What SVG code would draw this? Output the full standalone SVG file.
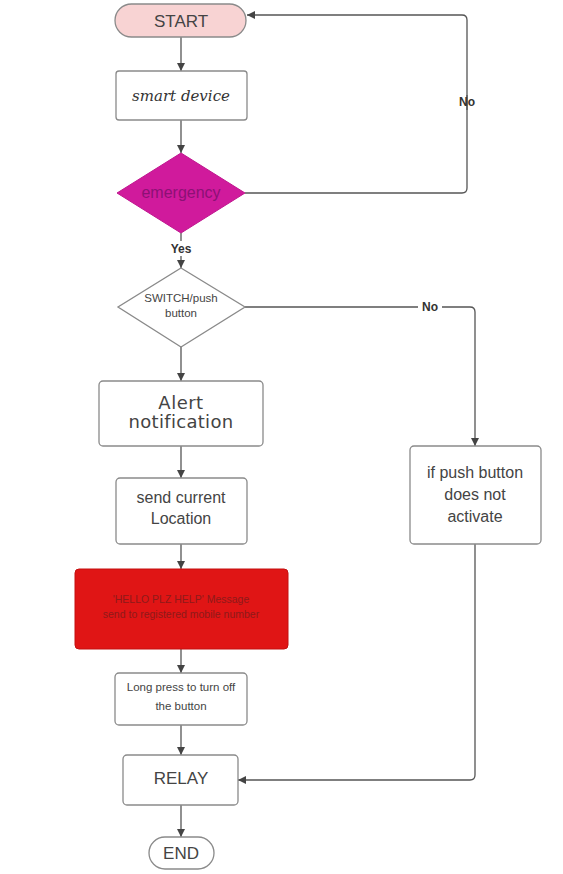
<svg xmlns="http://www.w3.org/2000/svg" width="563" height="874" viewBox="0 0 563 874">
<defs>
<marker id="ah" viewBox="0 0 10 10" refX="10" refY="5" markerWidth="8" markerHeight="8" markerUnits="userSpaceOnUse" orient="auto">
<path d="M0,0 L10,5 L0,10 z" fill="#444"/>
</marker>
<style>
.box{fill:#fff;stroke:#8a8a8a;stroke-width:1.3}
.t{font-family:"Liberation Sans",Arial,sans-serif;fill:#444;text-anchor:middle}
.c{fill:none;stroke:#555;stroke-width:1.3}
.lbl{font-family:"Liberation Sans",Arial,sans-serif;font-weight:bold;fill:#333;font-size:12px;text-anchor:middle}
</style>
</defs>
<rect width="563" height="874" fill="#fff"/>
<g id="connectors">
<path class="c" d="M181,37 V71" marker-end="url(#ah)"/>
<path class="c" d="M181,120 V153" marker-end="url(#ah)"/>
<path class="c" d="M245,193 H462 Q467,193 467,188 V95"/>
<path class="c" d="M467,110 V20 Q467,15 462,15 H247" marker-end="url(#ah)"/>
<path class="c" d="M181,233 V241"/>
<path class="c" d="M181,256 V268" marker-end="url(#ah)"/>
<path class="c" d="M181,347 V381" marker-end="url(#ah)"/>
<path class="c" d="M245,307 H418"/>
<path class="c" d="M442,307 H470 Q475,307 475,312 V446" marker-end="url(#ah)"/>
<path class="c" d="M181,446 V478" marker-end="url(#ah)"/>
<path class="c" d="M181,544 V569" marker-end="url(#ah)"/>
<path class="c" d="M181,649 V673" marker-end="url(#ah)"/>
<path class="c" d="M181,725 V755" marker-end="url(#ah)"/>
<path class="c" d="M475,544 V775 Q475,780 470,780 H238" marker-end="url(#ah)"/>
<path class="c" d="M181,805 V837" marker-end="url(#ah)"/>
<text class="lbl" x="467" y="106">No</text>
<text class="lbl" x="181" y="253">Yes</text>
<text class="lbl" x="430" y="311">No</text>
</g>
<g id="start">
<rect x="115" y="4" width="131" height="33" rx="16.5" fill="#f8d3d3" stroke="#8a8a8a" stroke-width="1.3"/>
<text class="t" x="181" y="26.5" font-size="17">START</text>
</g>
<g id="smart-device">
<rect class="box" x="116" y="71" width="131" height="49" rx="3"/>
<text x="181" y="101" font-family="'DejaVu Serif','Liberation Serif',serif" font-style="italic" font-size="15" fill="#333" text-anchor="middle">smart device</text>
</g>
<g id="emergency">
<path d="M181,153 L245,193 L181,233 L117,193 z" fill="#d01a9c" stroke="#c0168f" stroke-width="1"/>
<text x="181" y="197.5" font-family="'Liberation Sans',Arial,sans-serif" font-size="16" fill="#8c1175" text-anchor="middle">emergency</text>
</g>
<g id="switch">
<path class="box" d="M181,268 L245,307 L181,347 L118,307 z"/>
<text class="t" x="181" y="302" font-size="11.5">SWITCH/push</text>
<text class="t" x="181" y="317" font-size="11.5">button</text>
</g>
<g id="alert">
<rect class="box" x="99" y="381" width="164" height="65" rx="4"/>
<text x="181" y="409" font-family="'DejaVu Sans',sans-serif" font-size="18" fill="#444" text-anchor="middle" letter-spacing="0.5">Alert</text>
<text x="181" y="428" font-family="'DejaVu Sans',sans-serif" font-size="18" fill="#444" text-anchor="middle" letter-spacing="0.3">notification</text>
</g>
<g id="send-location">
<rect class="box" x="116" y="478" width="131" height="66" rx="4"/>
<text class="t" x="181" y="503" font-size="16">send current</text>
<text class="t" x="181" y="524" font-size="16">Location</text>
</g>
<g id="if-push">
<rect class="box" x="410" y="446" width="131" height="98" rx="4"/>
<text class="t" x="475" y="478" font-size="16">if push button</text>
<text class="t" x="475" y="500" font-size="16">does not</text>
<text class="t" x="475" y="522" font-size="16">activate</text>
</g>
<g id="message">
<rect x="75" y="569" width="213" height="80" rx="4" fill="#e01515" stroke="#c41010" stroke-width="1"/>
<text x="181" y="603" font-family="'Liberation Sans',Arial,sans-serif" font-size="10.5" fill="#8e1a1a" text-anchor="middle">'HELLO PLZ HELP' Message</text>
<text x="181" y="618" font-family="'Liberation Sans',Arial,sans-serif" font-size="10.5" fill="#8e1a1a" text-anchor="middle">send to registered mobile number</text>
</g>
<g id="long-press">
<rect class="box" x="115" y="673" width="132" height="52" rx="4"/>
<text class="t" x="181" y="691" font-size="11.5">Long press to turn off</text>
<text class="t" x="181" y="710" font-size="11.5">the button</text>
</g>
<g id="relay">
<rect class="box" x="123" y="755" width="115" height="50" rx="4"/>
<text class="t" x="181" y="784" font-size="17">RELAY</text>
</g>
<g id="end">
<rect class="box" x="149" y="837" width="65" height="32" rx="16"/>
<text class="t" x="181" y="859" font-size="17">END</text>
</g>
</svg>
